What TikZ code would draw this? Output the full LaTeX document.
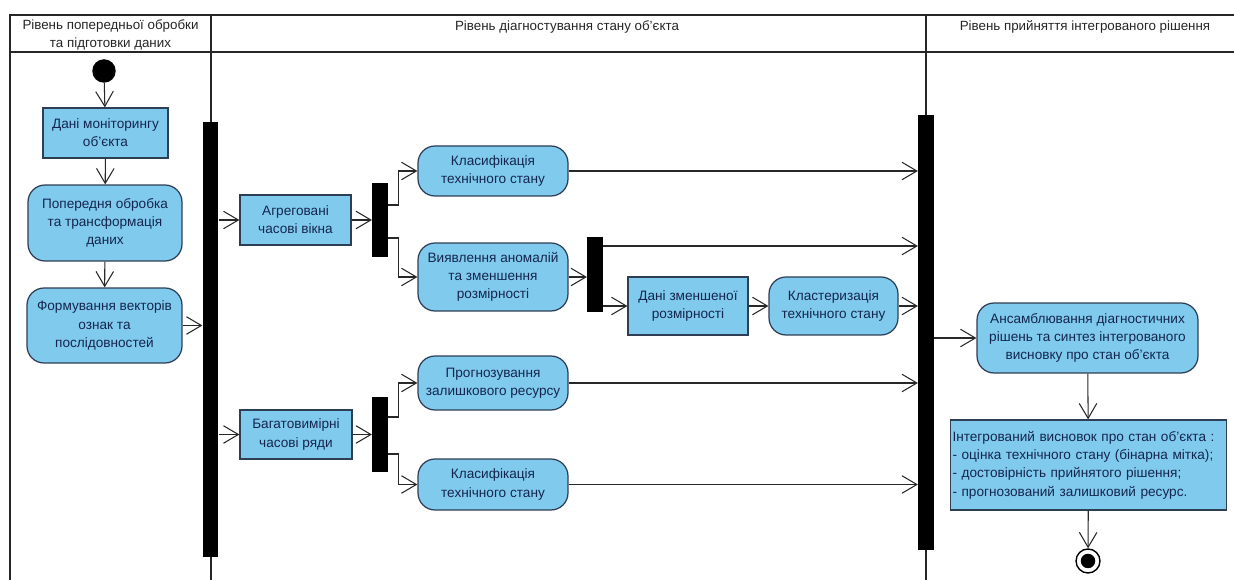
\documentclass[tikz,border=0pt]{standalone}
\usepackage{fontspec}
\setmainfont{Liberation Sans}
\usetikzlibrary{arrows.meta,calc}

\definecolor{actfill}{RGB}{128,202,238}
\definecolor{actdraw}{RGB}{45,62,85}
\definecolor{acttext}{RGB}{20,38,78}
\definecolor{flowcol}{RGB}{40,40,40}

\tikzset{
  base/.style={draw=actdraw, fill=actfill, text=acttext, align=center,
    line width=0.7pt, inner sep=1.5pt},
  act/.style={base, rounded corners=0.34cm},
  obj/.style={base},
  syncbar/.style={fill=black, draw=none, inner sep=0pt, minimum width=0.31cm},
  flow/.style={draw=flowcol, line width=0.6pt,
    -{Straight Barb[length=8.5pt,width=10pt,line width=0.6pt]}},
  lane/.style={draw=black!85, line width=1.4pt},
  lanehead/.style={text=black!85, align=center, inner sep=0pt,
    font=\fontsize{7.6}{10.3}\selectfont},
}

\begin{document}
\begin{tikzpicture}[x=0.02cm, y=-0.02cm, font=\fontsize{7.75}{10.4}\selectfont]
  \useasboundingbox[fill=white] (0,0) rectangle (1234,580);

  % swimlane frame
  \draw[lane] (10,580) -- (10,15) -- (1234,15);
  \draw[lane] (10,52) -- (1234,52);
  \draw[lane] (211,15) -- (211,580);
  \draw[lane] (926,15) -- (926,580);

  \node[lanehead] (h1) at (110.5,35) {Рівень попередньої обробки\\та підготовки даних};
  \node[lanehead] (h2) at (567,27) {Рівень діагностування стану об’єкта};
  \node[lanehead] (h3) at (1085,27) {Рівень прийняття інтегрованого рішення};

  % preprocessing lane
  \node[circle, fill=black, minimum size=0.47cm, inner sep=0pt] (start) at (104,71) {};
  \node[obj, minimum width=2.5cm, minimum height=1.0cm] (d1) at (105.5,133)
    {Дані моніторингу\\об’єкта};
  \node[act, minimum width=3.08cm, minimum height=1.52cm] (d2) at (105,223)
    {Попередня обробка\\та трансформація\\даних};
  \node[act, minimum width=3.1cm, minimum height=1.5cm] (d3) at (104.5,325.5)
    {Формування векторів\\ознак та\\послідовностей};
  \node[syncbar, minimum height=8.7cm] (b1) at (210.5,339.5) {};

  % diagnostics lane
  \node[obj, minimum width=2.22cm, minimum height=1.0cm] (agg) at (295.5,220)
    {Агреговані\\часові вікна};
  \node[syncbar, minimum height=1.48cm] (b2) at (380,220) {};
  \node[act, minimum width=3.0cm, minimum height=1.0cm] (cls1) at (493,171)
    {Класифікація\\технічного стану};
  \node[act, minimum width=3.0cm, minimum height=1.36cm] (anom) at (493,277)
    {Виявлення аномалій\\та зменшення\\розмірності};
  \node[syncbar, minimum height=1.5cm] (b3) at (595,274.5) {};
  \node[obj, minimum width=2.4cm, minimum height=1.16cm] (dred) at (688,306)
    {Дані зменшеної\\розмірності};
  \node[act, minimum width=2.58cm, minimum height=1.16cm] (clus) at (833.5,306)
    {Кластеризація\\технічного стану};

  \node[obj, minimum width=2.24cm, minimum height=0.98cm] (multi) at (296,434.5)
    {Багатовимірні\\часові ряди};
  \node[syncbar, minimum height=1.5cm] (b5) at (380,434.5) {};
  \node[act, minimum width=3.0cm, minimum height=1.08cm] (prog) at (493,383)
    {Прогнозування\\залишкового ресурсу};
  \node[act, minimum width=3.0cm, minimum height=1.02cm] (cls2) at (493,484.5)
    {Класифікація\\технічного стану};

  \node[syncbar, minimum height=8.7cm] (b4) at (926,332.5) {};

  % decision lane
  \node[act, minimum width=4.42cm, minimum height=1.4cm] (ens) at (1087.5,338)
    {Ансамблювання діагностичних\\рішень та синтез інтегрованого\\висновку про стан об’єкта};
  \node[obj, align=left, minimum width=5.5cm, minimum height=1.8cm, text width=5.44cm,
    inner sep=1pt] (concl) at (1088.5,465)
    {Інтегрований висновок про стан об’єкта :\\
     - оцінка технічного стану (бінарна мітка);\\
     - достовірність прийнятого рішення;\\
     - прогнозований залишковий ресурс.};
  \node[circle, draw=black, line width=0.8pt, minimum size=0.48cm, inner sep=0pt] (end) at (1088,561) {};
  \node[circle, fill=black, minimum size=0.29cm, inner sep=0pt] (endcore) at (end) {};

  % control flows
  \draw[flow] (start) -- (d1);
  \draw[flow] (d1) -- (d2);
  \draw[flow] (d2) -- (d3);
  \draw[flow] (d3.east) -- (d3.east -| b1.west);

  \draw[flow] (agg.west -| b1.east) -- (agg.west);
  \draw[flow] (multi.west -| b1.east) -- (multi.west);

  \draw[flow] (agg.east) -- (agg.east -| b2.west);
  \draw[flow] (b2.east |- 0,205) -- ++(10,0) |- (cls1.west);
  \draw[flow] (b2.east |- 0,238) -- ++(10,0) |- (anom.west);
  \draw[flow] (anom.east) -- (anom.east -| b3.west);
  \draw[flow] (b3.east |- 0,246) -- (b4.west |- 0,246);
  \draw[flow] (dred.west -| b3.east) -- (dred.west);
  \draw[flow] (dred) -- (clus);
  \draw[flow] (clus.east) -- (clus.east -| b4.west);
  \draw[flow] (cls1.east) -- (cls1.east -| b4.west);

  \draw[flow] (multi.east) -- (multi.east -| b5.west);
  \draw[flow] (b5.east |- 0,417) -- ++(10,0) |- (prog.west);
  \draw[flow] (b5.east |- 0,454) -- ++(10,0) |- (cls2.west);
  \draw[flow] (prog.east) -- (prog.east -| b4.west);
  \draw[flow] (cls2.east) -- (cls2.east -| b4.west);

  \draw[flow] (ens.west -| b4.east) -- (ens.west);
  \draw[flow] (ens) -- (concl);
  \draw[flow] (concl) -- (end);
\end{tikzpicture}
\end{document}
